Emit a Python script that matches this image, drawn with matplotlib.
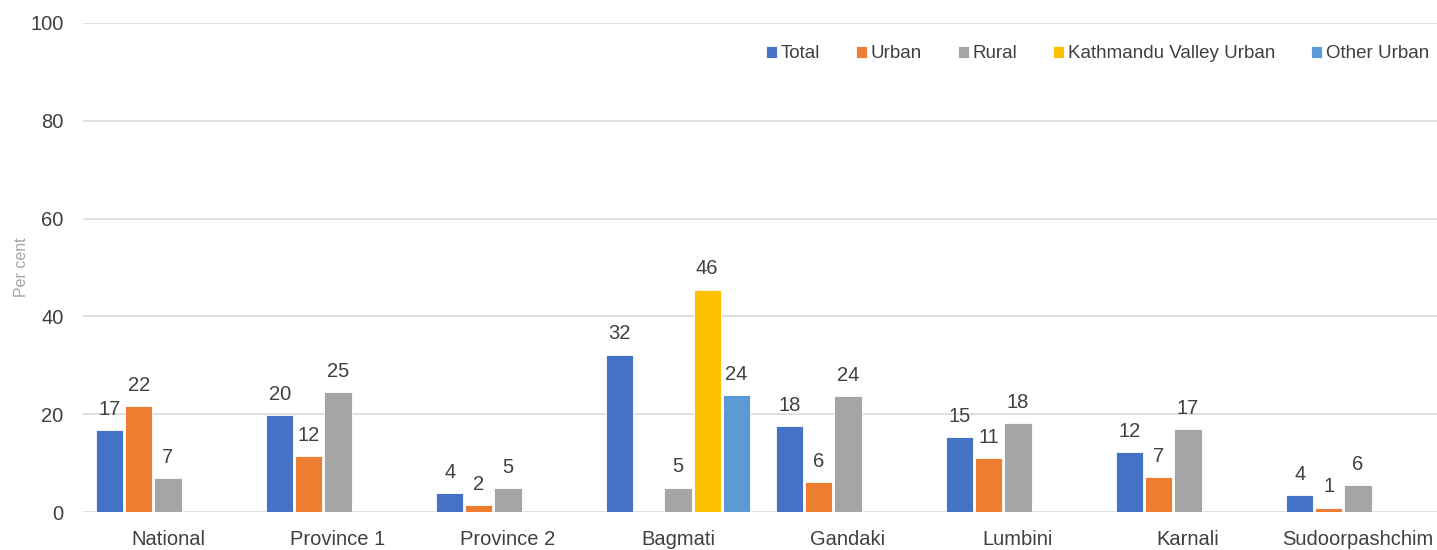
import numpy as np
import matplotlib.pyplot as plt

# Data
regions = ["National", "Province 1", "Province 2", "Bagmati", "Gandaki",
           "Lumbini", "Karnali", "Sudoorpashchim"]
series = ["Total", "Urban", "Rural", "Kathmandu Valley Urban", "Other Urban"]
total = [16.8, 19.8, 3.9, 32.2, 17.6, 15.3, 12.2, 3.5]
urban = [21.7, 11.5, 1.5, np.nan, 6.2, 11.0, 7.1, 0.9]
rural = [6.9, 24.6, 4.9, 5.0, 23.7, 18.2, 16.9, 5.6]
kv_urban = [np.nan, np.nan, np.nan, 45.5, np.nan, np.nan, np.nan, np.nan]
other_urban = [np.nan, np.nan, np.nan, 23.9, np.nan, np.nan, np.nan, np.nan]

colors = ["#4472C4", "#ED7D31", "#A5A5A5", "#FFC000", "#5B9BD5"]
text_col = "#404040"

plt.rcParams['font.family'] = ['Liberation Sans', 'DejaVu Sans']

fig = plt.figure(figsize=(14.37, 5.5), dpi=100)
ax = fig.add_axes([83 / 1437, 38 / 550, 1360 / 1437, 489 / 550])

x = np.arange(len(regions))
slot = 0.171
width = slot * 0.93
all_vals = [total, urban, rural, kv_urban, other_urban]

for i, (name, vals, col) in enumerate(zip(series, all_vals, colors)):
    pos = x + (i - 2) * slot
    vals = np.array(vals, dtype=float)
    ax.bar(pos, vals, width=width, color=col, label=name,
           edgecolor="white", linewidth=0.6, zorder=3)
    for p, v in zip(pos, vals):
        if not np.isnan(v):
            ax.annotate(f"{v:.0f}", (p, v), xytext=(0, 8), textcoords="offset points",
                        ha="center", va="bottom", fontsize=14.5, color=text_col)

ax.set_xlim(-0.5, len(regions) - 0.5)
ax.set_ylim(0, 100)
ax.set_yticks(range(0, 101, 20))
ax.set_xticks(x)
ax.set_xticklabels(regions)
ax.tick_params(axis="both", length=0, labelsize=14.5, colors=text_col)
ax.tick_params(axis="y", pad=14)
ax.tick_params(axis="x", pad=13)
ax.grid(axis="y", color="#D9D9D9", linewidth=1.2, zorder=0)
for s in ax.spines.values():
    s.set_visible(False)
ax.set_ylabel("Per cent", color="#A6A6A6", fontsize=11.5)
ax.yaxis.set_label_coords(-0.04, 0.5)

fig.legend(loc="center right", bbox_to_anchor=(1446 / 1437, 1 - 54 / 550),
           ncol=5, frameon=False, fontsize=13.5, handlelength=0.6, handleheight=0.6,
           handletextpad=0.2, columnspacing=1.9, labelcolor=text_col)

fig.savefig("out.png", dpi=100)
